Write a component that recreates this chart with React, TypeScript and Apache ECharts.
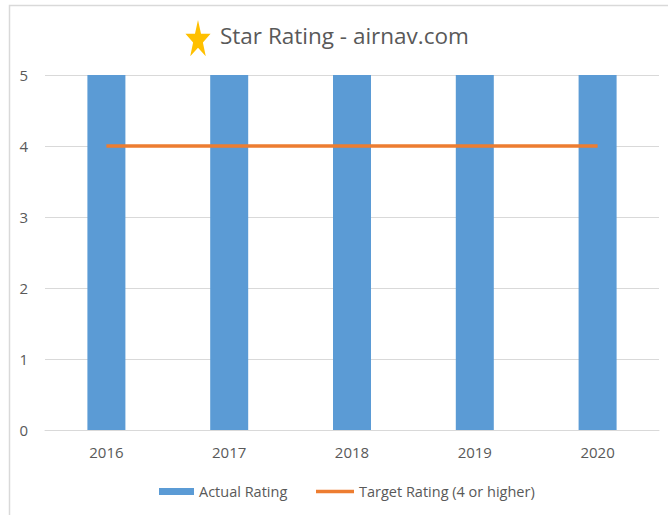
import React, { useEffect, useRef } from "react";
import * as echarts from "echarts";

const categories = ["2016", "2017", "2018", "2019", "2020"];
const actualRating = [5, 5, 5, 5, 5];
const targetRating = [4, 4, 4, 4, 4];
const titleText = "Star Rating - airnav.com";

const FONT = "'Open Sans', sans-serif";
const GREY = "#595959";

function starPoints(cx: number, cy: number, rOuter: number, rInner: number, sx: number, sy: number) {
  const pts: number[][] = [];
  for (let i = 0; i < 10; i++) {
    const r = i % 2 === 0 ? rOuter : rInner;
    const a = -Math.PI / 2 + (i * Math.PI) / 5;
    pts.push([cx + r * Math.cos(a) * sx, cy + r * Math.sin(a) * sy]);
  }
  return pts;
}

export default function App() {
  const ref = useRef<HTMLDivElement>(null);
  useEffect(() => {
    if (!ref.current) return;
    const chart = echarts.init(ref.current, undefined, { renderer: "svg" });
    chart.setOption({
      animation: false,
      backgroundColor: "#ffffff",
      textStyle: { fontFamily: FONT },
      grid: { left: 45, right: 9, top: 75, bottom: 85, containLabel: false },
      graphic: [
        {
          type: "rect",
          shape: { x: 9.5, y: 5.5, width: 700, height: 600 },
          style: { fill: "none", stroke: "#d9d9d9", lineWidth: 1.5 },
          silent: true,
        },
        {
          type: "polygon",
          shape: { points: starPoints(198, 40, 20, 7.8, 0.66, 1) },
          style: { fill: "#FFC000" },
        },
        {
          type: "text",
          left: 220,
          top: 24,
          style: { text: titleText, fontSize: 22.5, fill: GREY, fontFamily: FONT },
        },
      ],
      legend: [
        {
          left: 154,
          top: 479,
          itemWidth: 35,
          itemHeight: 7,
          itemGap: 20,
          textStyle: { color: GREY, fontSize: 14.5, fontFamily: FONT },
          data: [{ name: "Actual Rating", icon: "rect" }],
        },
        {
          left: 311,
          top: 479,
          itemWidth: 38,
          itemHeight: 3.5,
          textStyle: { color: GREY, fontSize: 14.5, fontFamily: FONT },
          data: [{ name: "Target Rating (4 or higher)", icon: "rect" }],
        },
      ],
      xAxis: {
        type: "category",
        data: categories,
        boundaryGap: true,
        axisLine: { lineStyle: { color: "#d9d9d9", width: 1 } },
        axisTick: { show: false },
        axisLabel: { color: GREY, fontSize: 15, margin: 14, fontFamily: FONT },
      },
      yAxis: {
        type: "value",
        min: 0,
        max: 5,
        interval: 1,
        axisLine: { show: false },
        axisTick: { show: false },
        splitLine: { lineStyle: { color: "#d9d9d9", width: 1 } },
        axisLabel: { color: GREY, fontSize: 15, margin: 17, fontFamily: FONT },
      },
      series: [
        {
          name: "Actual Rating",
          type: "bar",
          data: actualRating,
          barWidth: 38,
          itemStyle: { color: "#5B9BD5" },
        },
        {
          name: "Target Rating (4 or higher)",
          type: "line",
          data: targetRating,
          showSymbol: false,
          symbol: "none",
          lineStyle: { color: "#ED7D31", width: 3.5 },
          itemStyle: { color: "#ED7D31" },
        },
      ],
    });
    return () => chart.dispose();
  }, []);
  return (
    <div
      ref={ref}
      style={{ position: "fixed", left: 0, top: 0, width: 668, height: 515 }}
    />
  );
}
